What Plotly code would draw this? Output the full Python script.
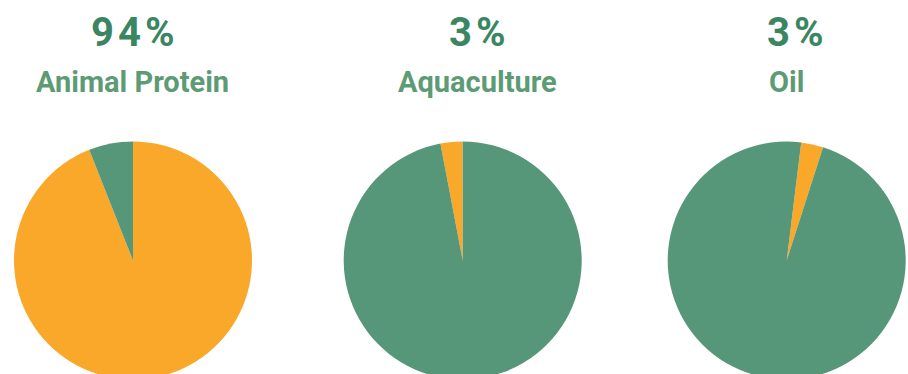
import plotly.graph_objects as go

categories = ["Animal Protein", "Aquaculture", "Oil"]
share_values = [94, 3, 3]
share_labels = ["94%", "3%", "3%"]
slice_names = ["Share", "Other"]
rotations = [0, -10.8, 7]

ORANGE = "#f9a82a"
GREEN = "#569679"
NUM_COLOR = "#3a8663"
LABEL_COLOR = "#5d9b75"

W, H = 908, 380

centers_x = [133, 462.7, 786.7]
radius = 119
center_y = 260.5
num_x = [132.5, 477, 795]
lab_x = [132, 477.5, 786.3]
num_y = 32.5
lab_y = 82.5

fig = go.Figure()
for i, cat in enumerate(categories):
    cx = centers_x[i]
    fig.add_trace(go.Pie(
        labels=slice_names,
        values=[share_values[i], 100 - share_values[i]],
        marker=dict(colors=[ORANGE, GREEN], line=dict(width=0)),
        sort=False,
        direction="clockwise",
        rotation=rotations[i],
        textinfo="none",
        hoverinfo="label+percent",
        showlegend=False,
        domain=dict(x=[(cx - radius) / W, (cx + radius) / W],
                    y=[(H - (center_y + radius)) / H, (H - (center_y - radius)) / H]),
    ))
    fig.add_annotation(
        text="\u200a".join(share_labels[i]),
        x=num_x[i] / W, y=1 - num_y / H, xref="paper", yref="paper",
        xanchor="center", yanchor="middle", showarrow=False,
        font=dict(family="Roboto", size=40, color=NUM_COLOR, weight="bold"),
    )
    fig.add_annotation(
        text=cat,
        x=lab_x[i] / W, y=1 - lab_y / H, xref="paper", yref="paper",
        xanchor="center", yanchor="middle", showarrow=False,
        font=dict(family="Roboto", size=29, color=LABEL_COLOR, weight="bold"),
    )

fig.update_layout(
    width=W, height=H,
    margin=dict(l=0, r=0, t=0, b=0),
    paper_bgcolor="white", plot_bgcolor="white",
)
fig.write_html(
    "out.html",
    config={"displayModeBar": False},
    post_script="document.body.style.margin='0';document.body.style.overflow='hidden';",
)
